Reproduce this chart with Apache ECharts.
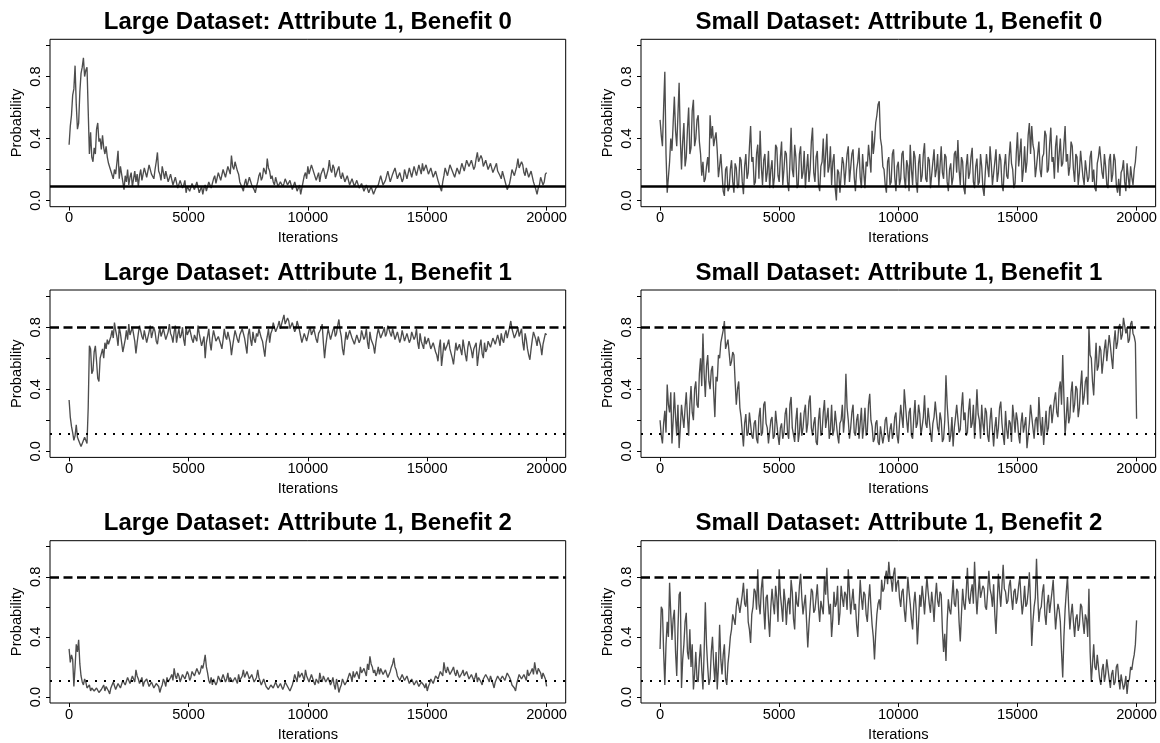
<!DOCTYPE html>
<html><head><meta charset="utf-8">
<script src="https://cdn.jsdelivr.net/npm/echarts@6/dist/echarts.min.js"></script>
<style>html,body{margin:0;padding:0;background:#fff}#c{width:1160px;height:743px}</style>
</head><body><div id="c"></div>
<script>
// ---------------- data ----------------
const STEP = 50; // iterations between recorded draws
const xTickValues = [0, 5000, 10000, 15000, 20000];
const yTickValues = [0, 0.2, 0.4, 0.6, 0.8, 1.0];
const yLabelValues = [0, 0.4, 0.8];
const panelTitles = [
  "Large Dataset: Attribute 1, Benefit 0", "Small Dataset: Attribute 1, Benefit 0",
  "Large Dataset: Attribute 1, Benefit 1", "Small Dataset: Attribute 1, Benefit 1",
  "Large Dataset: Attribute 1, Benefit 2", "Small Dataset: Attribute 1, Benefit 2"
];
const trueB0 = 0.09;
const trueHigh = 0.8;
const trueLow = 0.11;

const largeB0 = [
 0.36,0.48,0.55,0.68,0.72,0.87,0.62,0.46,0.50,0.70,0.82,0.86,0.92,0.80,0.84,0.86,0.58,0.30,0.44,0.28,
 0.25,0.34,0.30,0.46,0.50,0.38,0.40,0.33,0.42,0.34,0.30,0.35,0.28,0.24,0.25,0.19,0.18,0.14,0.20,0.17,
 0.24,0.32,0.14,0.22,0.17,0.12,0.07,0.16,0.12,0.20,0.10,0.15,0.18,0.09,0.14,0.19,0.12,0.17,0.09,0.16,
 0.20,0.13,0.14,0.21,0.22,0.15,0.16,0.23,0.24,0.17,0.18,0.14,0.20,0.25,0.31,0.19,0.17,0.13,0.22,0.18,
 0.14,0.19,0.18,0.12,0.12,0.17,0.16,0.10,0.11,0.15,0.14,0.08,0.09,0.13,0.12,0.08,0.10,0.13,0.05,0.09,
 0.10,0.06,0.07,0.11,0.12,0.07,0.08,0.12,0.11,0.05,0.06,0.09,0.04,0.08,0.10,0.06,0.07,0.12,0.12,0.08,
 0.09,0.14,0.16,0.11,0.12,0.18,0.19,0.13,0.14,0.20,0.21,0.15,0.15,0.22,0.22,0.17,0.29,0.22,0.20,0.25,
 0.24,0.19,0.17,0.12,0.12,0.08,0.06,0.11,0.14,0.09,0.10,0.15,0.16,0.10,0.11,0.07,0.05,0.09,0.12,0.16,
 0.18,0.13,0.15,0.21,0.22,0.17,0.27,0.21,0.19,0.14,0.16,0.12,0.10,0.15,0.14,0.09,0.08,0.12,0.13,0.09,
 0.11,0.14,0.15,0.10,0.09,0.13,0.12,0.07,0.08,0.12,0.11,0.06,0.07,0.10,0.04,0.08,0.12,0.16,0.18,0.14,
 0.22,0.17,0.16,0.23,0.24,0.18,0.19,0.13,0.14,0.18,0.12,0.17,0.16,0.21,0.20,0.14,0.15,0.20,0.26,0.20,
 0.18,0.23,0.21,0.15,0.16,0.20,0.22,0.16,0.14,0.18,0.17,0.12,0.12,0.16,0.15,0.10,0.10,0.14,0.14,0.09,
 0.09,0.13,0.12,0.08,0.07,0.11,0.11,0.06,0.06,0.10,0.09,0.05,0.05,0.09,0.08,0.04,0.04,0.08,0.07,0.10,
 0.11,0.16,0.15,0.10,0.09,0.13,0.14,0.19,0.18,0.12,0.12,0.17,0.16,0.21,0.20,0.14,0.13,0.18,0.17,0.12,
 0.14,0.20,0.19,0.14,0.15,0.21,0.20,0.15,0.16,0.22,0.21,0.16,0.17,0.23,0.22,0.17,0.24,0.19,0.18,0.23,
 0.22,0.17,0.16,0.21,0.20,0.15,0.14,0.19,0.18,0.13,0.12,0.08,0.06,0.12,0.16,0.21,0.22,0.16,0.17,0.23,
 0.24,0.19,0.20,0.15,0.16,0.21,0.22,0.17,0.18,0.24,0.25,0.19,0.20,0.26,0.27,0.22,0.21,0.26,0.25,0.20,
 0.22,0.27,0.31,0.25,0.24,0.29,0.27,0.22,0.21,0.26,0.25,0.20,0.19,0.24,0.23,0.18,0.18,0.22,0.24,0.19,
 0.20,0.16,0.14,0.19,0.18,0.13,0.10,0.07,0.06,0.11,0.15,0.20,0.21,0.16,0.17,0.22,0.27,0.21,0.20,0.25,
 0.23,0.18,0.16,0.21,0.21,0.15,0.14,0.19,0.18,0.12,0.11,0.07,0.04,0.08,0.10,0.15,0.15,0.10,0.12,0.17,
 0.18];

const smallB0 = [
 0.52,0.42,0.35,0.60,0.83,0.30,0.05,0.15,0.25,0.40,0.32,0.50,0.67,0.45,0.35,0.55,0.76,0.40,0.20,0.38,
 0.50,0.22,0.28,0.46,0.60,0.30,0.34,0.58,0.65,0.35,0.40,0.52,0.55,0.38,0.30,0.16,0.25,0.12,0.14,0.22,
 0.28,0.18,0.55,0.40,0.48,0.35,0.40,0.44,0.32,0.15,0.22,0.30,0.18,0.06,0.03,0.20,0.22,0.06,0.08,0.20,
 0.26,0.12,0.05,0.24,0.21,0.08,0.10,0.28,0.26,0.12,0.04,0.22,0.30,0.14,0.18,0.34,0.48,0.25,0.28,0.10,
 0.12,0.30,0.36,0.14,0.45,0.22,0.10,0.26,0.30,0.12,0.18,0.32,0.08,0.20,0.26,0.08,0.15,0.36,0.34,0.16,
 0.12,0.28,0.38,0.10,0.20,0.32,0.30,0.12,0.06,0.24,0.47,0.20,0.15,0.36,0.28,0.08,0.10,0.30,0.35,0.14,
 0.18,0.32,0.08,0.20,0.30,0.12,0.20,0.38,0.47,0.18,0.12,0.28,0.32,0.10,0.06,0.22,0.25,0.40,0.15,0.30,
 0.43,0.18,0.22,0.35,0.10,0.25,0.30,0.08,0.00,0.20,0.18,0.05,0.06,0.28,0.24,0.10,0.09,0.30,0.35,0.12,
 0.12,0.30,0.33,0.15,0.06,0.20,0.25,0.34,0.15,0.08,0.30,0.18,0.08,0.25,0.22,0.36,0.37,0.18,0.45,0.30,
 0.38,0.50,0.55,0.62,0.64,0.40,0.35,0.22,0.20,0.10,0.05,0.25,0.28,0.10,0.12,0.30,0.33,0.15,0.06,0.22,
 0.25,0.10,0.14,0.30,0.32,0.15,0.08,0.26,0.22,0.06,0.36,0.20,0.10,0.32,0.28,0.12,0.05,0.24,0.30,0.12,
 0.16,0.30,0.37,0.14,0.12,0.28,0.26,0.08,0.07,0.25,0.33,0.15,0.20,0.30,0.09,0.22,0.35,0.18,0.14,0.30,
 0.28,0.12,0.06,0.20,0.24,0.10,0.15,0.30,0.32,0.18,0.39,0.20,0.10,0.28,0.25,0.08,0.04,0.22,0.30,0.14,
 0.18,0.28,0.34,0.12,0.08,0.22,0.27,0.10,0.12,0.30,0.22,0.08,0.03,0.18,0.30,0.22,0.15,0.35,0.24,0.10,
 0.09,0.25,0.33,0.12,0.18,0.30,0.26,0.10,0.06,0.22,0.30,0.16,0.14,0.28,0.38,0.24,0.20,0.08,0.11,0.30,
 0.44,0.22,0.30,0.40,0.12,0.20,0.35,0.18,0.25,0.42,0.50,0.30,0.48,0.36,0.32,0.15,0.22,0.30,0.38,0.20,
 0.15,0.28,0.30,0.45,0.42,0.18,0.20,0.36,0.47,0.25,0.28,0.14,0.35,0.42,0.18,0.30,0.40,0.22,0.24,0.36,
 0.48,0.25,0.30,0.16,0.22,0.38,0.35,0.20,0.12,0.30,0.28,0.10,0.18,0.32,0.33,0.15,0.10,0.26,0.25,0.12,
 0.15,0.28,0.32,0.12,0.20,0.08,0.06,0.24,0.28,0.35,0.35,0.18,0.14,0.30,0.22,0.10,0.08,0.26,0.30,0.12,
 0.17,0.30,0.26,0.10,0.05,0.14,0.03,0.18,0.20,0.26,0.12,0.06,0.24,0.15,0.08,0.22,0.15,0.10,0.20,0.25,
 0.35];

const largeB1 = [
 0.33,0.22,0.16,0.12,0.07,0.10,0.17,0.09,0.08,0.05,0.03,0.05,0.06,0.09,0.10,0.05,0.28,0.68,0.66,0.50,
 0.52,0.64,0.68,0.58,0.47,0.45,0.60,0.63,0.66,0.60,0.70,0.66,0.72,0.69,0.68,0.74,0.78,0.73,0.83,0.78,
 0.74,0.68,0.80,0.76,0.70,0.64,0.64,0.72,0.78,0.72,0.82,0.75,0.74,0.80,0.79,0.71,0.63,0.70,0.76,0.81,
 0.80,0.74,0.72,0.78,0.78,0.70,0.70,0.77,0.81,0.73,0.74,0.80,0.77,0.71,0.69,0.75,0.80,0.74,0.73,0.79,
 0.78,0.72,0.71,0.77,0.82,0.76,0.74,0.70,0.77,0.81,0.70,0.75,0.79,0.73,0.75,0.80,0.72,0.68,0.80,0.75,
 0.74,0.79,0.78,0.72,0.70,0.75,0.76,0.71,0.81,0.76,0.72,0.68,0.68,0.74,0.60,0.70,0.74,0.79,0.70,0.65,
 0.73,0.78,0.77,0.71,0.70,0.74,0.75,0.69,0.66,0.72,0.79,0.74,0.72,0.77,0.76,0.70,0.62,0.68,0.73,0.78,
 0.78,0.72,0.70,0.75,0.74,0.79,0.80,0.73,0.68,0.63,0.75,0.79,0.72,0.68,0.77,0.72,0.70,0.76,0.74,0.79,
 0.79,0.73,0.71,0.66,0.61,0.70,0.74,0.79,0.70,0.76,0.78,0.83,0.82,0.77,0.76,0.81,0.84,0.79,0.80,0.85,
 0.88,0.82,0.81,0.86,0.84,0.79,0.78,0.83,0.83,0.77,0.79,0.84,0.85,0.78,0.74,0.70,0.70,0.76,0.76,0.71,
 0.72,0.78,0.80,0.75,0.74,0.79,0.78,0.72,0.70,0.76,0.75,0.79,0.82,0.70,0.60,0.68,0.74,0.79,0.78,0.72,
 0.72,0.78,0.80,0.74,0.76,0.81,0.85,0.78,0.74,0.66,0.62,0.70,0.77,0.72,0.72,0.78,0.79,0.73,0.74,0.69,
 0.70,0.75,0.76,0.70,0.72,0.78,0.78,0.72,0.74,0.79,0.70,0.66,0.77,0.72,0.73,0.68,0.63,0.70,0.75,0.79,
 0.78,0.73,0.72,0.77,0.80,0.74,0.76,0.81,0.82,0.76,0.74,0.79,0.78,0.72,0.71,0.77,0.76,0.70,0.73,0.78,
 0.77,0.71,0.70,0.76,0.75,0.70,0.72,0.77,0.78,0.72,0.74,0.79,0.70,0.66,0.76,0.71,0.71,0.66,0.74,0.69,
 0.68,0.73,0.72,0.66,0.65,0.70,0.70,0.64,0.62,0.58,0.67,0.72,0.55,0.62,0.70,0.65,0.64,0.69,0.72,0.66,
 0.66,0.60,0.56,0.63,0.70,0.65,0.64,0.69,0.68,0.62,0.72,0.67,0.62,0.58,0.67,0.71,0.70,0.65,0.60,0.66,
 0.65,0.70,0.55,0.62,0.68,0.72,0.63,0.60,0.70,0.64,0.66,0.71,0.72,0.67,0.68,0.73,0.74,0.69,0.70,0.75,
 0.72,0.68,0.76,0.72,0.70,0.75,0.78,0.73,0.74,0.80,0.84,0.79,0.78,0.73,0.72,0.77,0.80,0.74,0.74,0.79,
 0.70,0.65,0.76,0.72,0.66,0.62,0.59,0.66,0.72,0.77,0.78,0.72,0.68,0.74,0.74,0.68,0.62,0.69,0.70,0.76,
 0.75];

const smallB1 = [
 0.20,0.10,0.05,0.18,0.26,0.12,0.43,0.30,0.25,0.38,0.05,0.20,0.38,0.22,0.10,0.30,0.02,0.15,0.30,0.22,
 0.15,0.28,0.38,0.22,0.10,0.30,0.42,0.25,0.20,0.40,0.45,0.30,0.28,0.50,0.60,0.42,0.76,0.50,0.35,0.55,
 0.62,0.45,0.40,0.52,0.55,0.38,0.22,0.48,0.45,0.62,0.60,0.70,0.70,0.78,0.84,0.66,0.65,0.72,0.72,0.55,
 0.58,0.64,0.62,0.45,0.30,0.40,0.45,0.28,0.22,0.12,0.03,0.18,0.24,0.10,0.12,0.25,0.26,0.10,0.08,0.18,
 0.20,0.08,0.05,0.22,0.28,0.10,0.12,0.30,0.32,0.18,0.15,0.05,0.06,0.20,0.22,0.08,0.10,0.26,0.25,0.10,
 0.04,0.15,0.18,0.08,0.12,0.24,0.28,0.12,0.08,0.30,0.35,0.15,0.14,0.06,0.20,0.28,0.06,0.12,0.25,0.10,
 0.15,0.25,0.30,0.12,0.18,0.32,0.36,0.15,0.10,0.18,0.22,0.06,0.04,0.20,0.28,0.10,0.12,0.25,0.33,0.15,
 0.16,0.28,0.08,0.14,0.30,0.10,0.14,0.26,0.25,0.10,0.05,0.18,0.20,0.30,0.12,0.22,0.50,0.28,0.20,0.08,
 0.15,0.25,0.30,0.12,0.10,0.20,0.24,0.08,0.18,0.28,0.08,0.16,0.28,0.10,0.13,0.30,0.37,0.20,0.16,0.06,
 0.08,0.18,0.20,0.06,0.04,0.16,0.15,0.05,0.10,0.20,0.22,0.12,0.06,0.14,0.18,0.08,0.12,0.22,0.25,0.10,
 0.05,0.18,0.30,0.22,0.15,0.40,0.40,0.20,0.12,0.25,0.28,0.10,0.08,0.22,0.33,0.15,0.18,0.30,0.24,0.10,
 0.10,0.22,0.36,0.18,0.15,0.28,0.27,0.12,0.06,0.18,0.22,0.32,0.32,0.15,0.12,0.25,0.20,0.06,0.08,0.20,
 0.49,0.30,0.18,0.06,0.10,0.22,0.03,0.15,0.22,0.30,0.30,0.12,0.14,0.28,0.38,0.20,0.25,0.10,0.12,0.26,
 0.34,0.15,0.18,0.30,0.08,0.22,0.40,0.24,0.20,0.08,0.30,0.18,0.12,0.28,0.25,0.10,0.06,0.20,0.28,0.14,
 0.03,0.15,0.22,0.08,0.15,0.28,0.32,0.18,0.10,0.04,0.26,0.14,0.08,0.20,0.18,0.06,0.30,0.22,0.12,0.25,
 0.20,0.10,0.05,0.18,0.25,0.12,0.12,0.22,0.02,0.10,0.18,0.30,0.30,0.15,0.08,0.20,0.22,0.12,0.35,0.20,
 0.10,0.22,0.04,0.15,0.26,0.12,0.15,0.28,0.30,0.18,0.18,0.33,0.38,0.25,0.22,0.40,0.45,0.30,0.62,0.35,
 0.10,0.22,0.35,0.18,0.22,0.38,0.45,0.25,0.30,0.42,0.40,0.22,0.28,0.42,0.52,0.30,0.35,0.45,0.48,0.30,
 0.80,0.62,0.60,0.45,0.36,0.55,0.70,0.52,0.55,0.68,0.65,0.50,0.50,0.66,0.72,0.58,0.58,0.75,0.68,0.60,
 0.53,0.70,0.78,0.66,0.70,0.80,0.82,0.72,0.75,0.86,0.87,0.76,0.80,0.70,0.72,0.82,0.84,0.76,0.74,0.70,
 0.21];

const largeB2 = [
 0.32,0.23,0.28,0.25,0.07,0.20,0.35,0.30,0.38,0.22,0.14,0.10,0.08,0.12,0.10,0.06,0.05,0.08,0.04,0.06,
 0.07,0.04,0.03,0.06,0.06,0.03,0.02,0.05,0.05,0.08,0.04,0.07,0.08,0.04,0.02,0.06,0.06,0.10,0.09,0.05,
 0.05,0.09,0.10,0.06,0.07,0.11,0.12,0.08,0.08,0.13,0.14,0.09,0.10,0.14,0.15,0.10,0.18,0.14,0.12,0.09,
 0.10,0.13,0.07,0.10,0.09,0.12,0.11,0.07,0.07,0.10,0.09,0.06,0.06,0.09,0.10,0.07,0.03,0.06,0.08,0.12,
 0.10,0.07,0.13,0.10,0.09,0.13,0.15,0.11,0.19,0.14,0.12,0.16,0.14,0.10,0.11,0.15,0.16,0.12,0.13,0.17,
 0.15,0.11,0.13,0.17,0.18,0.14,0.14,0.19,0.20,0.15,0.17,0.21,0.19,0.23,0.28,0.20,0.16,0.11,0.09,0.13,
 0.08,0.12,0.12,0.08,0.10,0.14,0.14,0.10,0.11,0.15,0.15,0.10,0.12,0.16,0.10,0.13,0.14,0.10,0.09,0.13,
 0.12,0.09,0.15,0.11,0.10,0.14,0.18,0.13,0.13,0.17,0.16,0.12,0.11,0.15,0.14,0.10,0.09,0.13,0.18,0.13,
 0.12,0.08,0.09,0.12,0.11,0.07,0.07,0.05,0.04,0.08,0.09,0.06,0.07,0.10,0.10,0.06,0.06,0.09,0.09,0.05,
 0.07,0.10,0.10,0.07,0.06,0.04,0.04,0.08,0.11,0.15,0.14,0.10,0.17,0.13,0.12,0.16,0.15,0.11,0.18,0.14,
 0.14,0.10,0.11,0.15,0.15,0.10,0.08,0.12,0.13,0.09,0.16,0.12,0.10,0.14,0.14,0.10,0.09,0.13,0.12,0.08,
 0.10,0.13,0.08,0.05,0.12,0.08,0.03,0.06,0.08,0.12,0.11,0.08,0.07,0.11,0.12,0.16,0.14,0.10,0.17,0.13,
 0.13,0.17,0.16,0.12,0.20,0.16,0.15,0.19,0.18,0.14,0.22,0.18,0.27,0.22,0.20,0.16,0.18,0.14,0.16,0.20,
 0.15,0.19,0.19,0.15,0.14,0.18,0.17,0.13,0.13,0.17,0.20,0.22,0.26,0.20,0.18,0.14,0.14,0.11,0.12,0.15,
 0.15,0.11,0.11,0.14,0.13,0.09,0.09,0.12,0.12,0.08,0.08,0.11,0.10,0.07,0.07,0.10,0.11,0.08,0.06,0.09,
 0.04,0.07,0.09,0.12,0.12,0.09,0.10,0.14,0.15,0.12,0.13,0.17,0.18,0.14,0.23,0.18,0.16,0.20,0.19,0.15,
 0.15,0.18,0.20,0.16,0.14,0.18,0.17,0.13,0.12,0.16,0.18,0.14,0.13,0.17,0.16,0.12,0.11,0.15,0.15,0.11,
 0.13,0.16,0.10,0.13,0.14,0.10,0.08,0.12,0.12,0.15,0.16,0.12,0.10,0.14,0.13,0.09,0.06,0.10,0.11,0.14,
 0.14,0.11,0.10,0.14,0.15,0.11,0.12,0.16,0.17,0.13,0.11,0.08,0.08,0.06,0.04,0.09,0.12,0.15,0.16,0.12,
 0.11,0.15,0.15,0.11,0.18,0.14,0.13,0.17,0.19,0.15,0.23,0.18,0.15,0.19,0.20,0.16,0.12,0.16,0.16,0.12,
 0.07];

const smallB2 = [
 0.32,0.60,0.58,0.30,0.08,0.35,0.50,0.40,0.76,0.55,0.38,0.52,0.58,0.30,0.14,0.45,0.68,0.70,0.06,0.25,
 0.35,0.50,0.56,0.30,0.25,0.45,0.20,0.35,0.05,0.15,0.30,0.12,0.10,0.25,0.35,0.18,0.05,0.30,0.63,0.35,
 0.20,0.08,0.12,0.30,0.40,0.22,0.10,0.30,0.05,0.20,0.48,0.25,0.15,0.28,0.35,0.12,0.08,0.22,0.30,0.40,
 0.45,0.55,0.55,0.48,0.60,0.66,0.65,0.56,0.55,0.68,0.76,0.62,0.60,0.72,0.50,0.45,0.36,0.55,0.60,0.72,
 0.70,0.58,0.85,0.62,0.55,0.72,0.80,0.60,0.45,0.66,0.68,0.52,0.40,0.60,0.72,0.62,0.55,0.74,0.66,0.50,
 0.85,0.68,0.60,0.50,0.72,0.64,0.48,0.62,0.66,0.55,0.78,0.70,0.52,0.45,0.70,0.62,0.60,0.74,0.82,0.66,
 0.55,0.62,0.68,0.50,0.33,0.48,0.60,0.72,0.70,0.56,0.58,0.66,0.75,0.60,0.50,0.64,0.64,0.55,0.80,0.68,
 0.86,0.66,0.55,0.62,0.40,0.52,0.70,0.60,0.62,0.74,0.48,0.56,0.74,0.66,0.60,0.70,0.68,0.58,0.85,0.70,
 0.55,0.64,0.72,0.58,0.62,0.48,0.40,0.60,0.78,0.66,0.58,0.70,0.68,0.55,0.50,0.64,0.75,0.60,0.48,0.40,
 0.25,0.42,0.55,0.62,0.65,0.58,0.78,0.70,0.72,0.80,0.84,0.75,0.90,0.80,0.78,0.70,0.82,0.86,0.70,0.76,
 0.78,0.66,0.60,0.70,0.72,0.58,0.50,0.64,0.80,0.70,0.62,0.52,0.45,0.62,0.70,0.58,0.35,0.50,0.68,0.60,
 0.74,0.66,0.55,0.68,0.80,0.70,0.62,0.56,0.70,0.62,0.50,0.66,0.76,0.64,0.60,0.70,0.68,0.45,0.30,0.42,
 0.24,0.50,0.65,0.58,0.55,0.66,0.78,0.62,0.60,0.72,0.70,0.50,0.37,0.55,0.72,0.62,0.58,0.70,0.86,0.66,
 0.62,0.70,0.75,0.62,0.90,0.70,0.55,0.68,0.80,0.66,0.65,0.74,0.72,0.60,0.58,0.70,0.84,0.72,0.68,0.60,
 0.75,0.55,0.42,0.62,0.82,0.70,0.60,0.74,0.88,0.72,0.70,0.62,0.64,0.74,0.78,0.66,0.58,0.70,0.72,0.62,
 0.66,0.74,0.80,0.66,0.55,0.62,0.74,0.60,0.62,0.70,0.83,0.62,0.34,0.50,0.60,0.66,0.92,0.68,0.50,0.58,
 0.60,0.70,0.75,0.55,0.48,0.62,0.68,0.56,0.55,0.70,0.78,0.60,0.45,0.55,0.62,0.58,0.50,0.30,0.13,0.40,
 0.58,0.70,0.80,0.60,0.45,0.55,0.62,0.50,0.40,0.52,0.55,0.44,0.48,0.62,0.60,0.50,0.42,0.55,0.52,0.40,
 0.72,0.30,0.10,0.22,0.35,0.20,0.18,0.28,0.28,0.12,0.08,0.18,0.22,0.10,0.15,0.25,0.25,0.12,0.06,0.15,
 0.18,0.08,0.10,0.20,0.22,0.12,0.05,0.15,0.15,0.05,0.08,0.14,0.02,0.10,0.12,0.20,0.18,0.24,0.28,0.35,
 0.51];

const panelData = [largeB0, smallB0, largeB1, smallB1, largeB2, smallB2];
const panelBenefit = [0, 0, 1, 1, 2, 2];

// ---------------- layout ----------------
const FONT = "'Liberation Sans', Arial, Helvetica, sans-serif";
const colLeft = [50, 641];
const boxW = 515.7;
const rowTop = [39.3, 290, 540.7];
const boxH = 167.4;

const grids = [], xAxes = [], yAxes = [], series = [], titles = [];
for (let i = 0; i < 6; i++) {
  const r = Math.floor(i / 2), c = i % 2;
  grids.push({left: colLeft[c], top: rowTop[r], width: boxW, height: boxH,
    show: true, borderColor: '#000', borderWidth: 1, backgroundColor: 'transparent'});
  titles.push({text: panelTitles[i], left: colLeft[c] + boxW / 2, top: rowTop[r] - 29,
    textAlign: 'center', padding: 0,
    textStyle: {fontFamily: FONT, fontSize: 24, fontWeight: 'bold', color: '#000'}});
  xAxes.push({type: 'value', gridIndex: i, min: -800, max: 20800,
    name: 'Iterations', nameLocation: 'middle', nameGap: 24,
    nameTextStyle: {fontFamily: FONT, fontSize: 14.7, color: '#000'},
    axisLine: {show: false, onZero: false}, splitLine: {show: false},
    axisTick: {show: true, length: 4, customValues: xTickValues, lineStyle: {color: '#000'}},
    axisLabel: {show: true, margin: 4, customValues: xTickValues, formatter: v => String(v),
      fontFamily: FONT, fontSize: 14.7, color: '#000'}});
  yAxes.push({type: 'value', gridIndex: i, min: -0.04, max: 1.04,
    name: 'Probability', nameLocation: 'middle', nameGap: 26, nameRotate: 90,
    nameTextStyle: {fontFamily: FONT, fontSize: 14.7, color: '#000'},
    axisLine: {show: false, onZero: false}, splitLine: {show: false},
    axisTick: {show: true, length: 4, customValues: yTickValues, lineStyle: {color: '#000'}},
    axisLabel: {show: true, rotate: 90, margin: 7, customValues: yLabelValues,
      formatter: v => Number(v).toFixed(1), fontFamily: FONT, fontSize: 14.7, color: '#000'}});
  const refLines = panelBenefit[i] === 0
    ? [{yAxis: trueB0, lineStyle: {type: 'solid', width: 2.5, color: '#000'}}]
    : [{yAxis: trueHigh, lineStyle: {type: [9, 4.5], width: 2.5, color: '#000'}},
       {yAxis: trueLow, lineStyle: {type: [2, 7], width: 2, color: '#000'}}];
  series.push({type: 'line', xAxisIndex: i, yAxisIndex: i, symbol: 'none', showSymbol: false,
    lineStyle: {color: '#4d4d4d', width: 1.35},
    data: panelData[i].map((v, k) => [k * STEP, v]),
    markLine: {silent: true, symbol: ['none', 'none'], label: {show: false}, data: refLines}});
}

const chart = echarts.init(document.getElementById('c'), null, {renderer: 'canvas'});
chart.setOption({animation: false, backgroundColor: '#fff', title: titles,
  grid: grids, xAxis: xAxes, yAxis: yAxes, series: series});
</script></body></html>
